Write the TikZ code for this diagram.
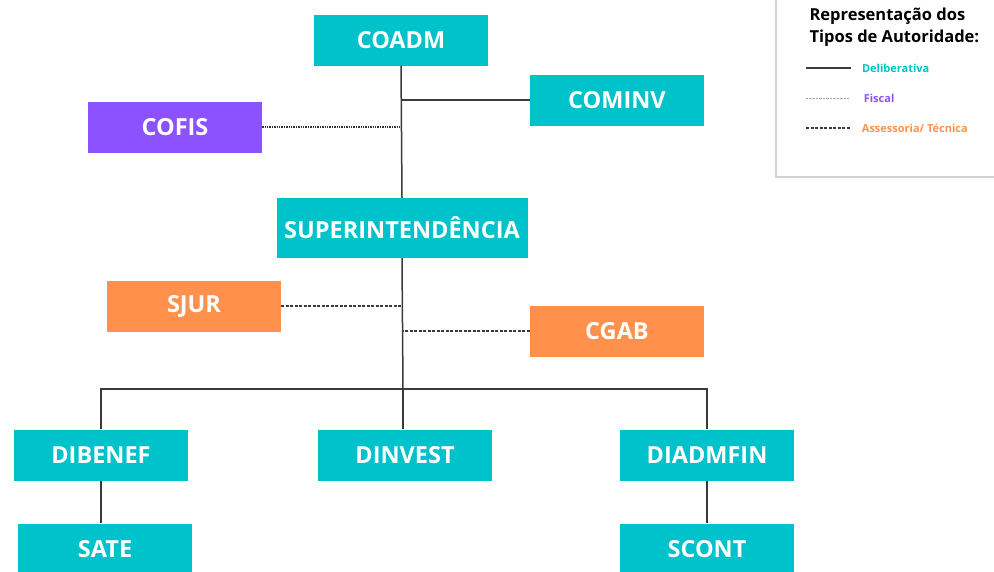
\documentclass[tikz,border=0pt]{standalone}
\usepackage{fontspec}
\setmainfont{Open Sans}
\usepackage{tikz}

\definecolor{cyanbox}{HTML}{00C2CB}
\definecolor{purplebox}{HTML}{8C52FF}
\definecolor{orangebox}{HTML}{FF914D}
\definecolor{linegray}{HTML}{3A3A3A}

\tikzset{
  unit/.style={draw=none,fill=cyanbox,text=white,font=\fontsize{23.5}{26}\selectfont\bfseries,
    minimum width=174pt,minimum height=51pt,inner sep=0pt},
  fiscalbox/.style={unit,fill=purplebox},
  advisorbox/.style={unit,fill=orangebox},
  deliberative/.style={draw=linegray,line width=1.5pt},
  fiscalline/.style={draw=linegray!90!black,line width=2pt,dash pattern=on 1.4pt off 1pt},
  advisorline/.style={draw=linegray,line width=1.6pt,dash pattern=on 3pt off 1.5pt},
  keytext/.style={font=\fontsize{11}{13}\selectfont\bfseries},
}

\begin{document}
\begin{tikzpicture}[x=1pt,y=-1pt]
\useasboundingbox (0,0) rectangle (994,571);
% boxes
\node (coadm) at (401,40) [unit]{COADM};
\node (cominv) at (617,100) [unit]{COMINV};
\node (cofis) at (175,127) [fiscalbox]{COFIS};
\node (super) at (402,228) [unit,minimum width=251pt,minimum height=60pt]{SUPERINTENDÊNCIA};
\node (sjur) at (194,306) [advisorbox]{SJUR};
\node (cgab) at (617,331) [advisorbox]{CGAB};
\node (dibenef) at (101,455) [unit]{DIBENEF};
\node (dinvest) at (405,455) [unit]{DINVEST};
\node (diadmfin) at (707,455) [unit]{DIADMFIN};
\node (sate) at (105,549) [unit]{SATE};
\node (scont) at (707,549) [unit]{SCONT};
\coordinate (bus) at (403,389);
% connectors
\draw[deliberative] (coadm.south) -- (super.north);
\draw[deliberative] (cominv.west) -- (cominv.west -| coadm.south);
\draw[fiscalline] (cofis.east) -- (cofis.east -| coadm.south);
\draw[deliberative] (super.south) -- (bus);
\draw[advisorline] (sjur.east) -- (sjur.east -| super.south);
\draw[advisorline] (cgab.west) -- (cgab.west -| super.south);
\draw[deliberative] (dibenef.north) |- (bus) -| (diadmfin.north);
\draw[deliberative] (bus) -- (bus |- dinvest.north);
\draw[deliberative] (dibenef.south) -- (dibenef.south |- sate.north);
\draw[deliberative] (diadmfin.south) -- (diadmfin.south |- scont.north);
% legend
\draw[gray!35,line width=2pt] (776,-5) rectangle (1000,177);
\node (title) at (806,27) [anchor=west,align=left,font=\fontsize{16.5}{22}\selectfont\bfseries]{Representação dos\\Tipos de Autoridade:};
\coordinate (l1) at (806,68);
\coordinate (l2) at (806,98);
\coordinate (l3) at (806,128);
\draw[deliberative] (l1) -- ++(45,0) node (k1) [right=7pt,text=cyanbox,keytext]{Deliberativa};
\draw[gray!70,line width=1pt,dash pattern=on 0.8pt off 0.6pt] (l2) -- ++(43,0) node (k2) [right=11pt,text=purplebox,keytext]{Fiscal};
\draw[advisorline,line width=1.2pt] (l3) -- ++(45,0) node (k3) [right=7pt,text=orangebox,keytext]{Assessoria/ Técnica};
\end{tikzpicture}
\end{document}
